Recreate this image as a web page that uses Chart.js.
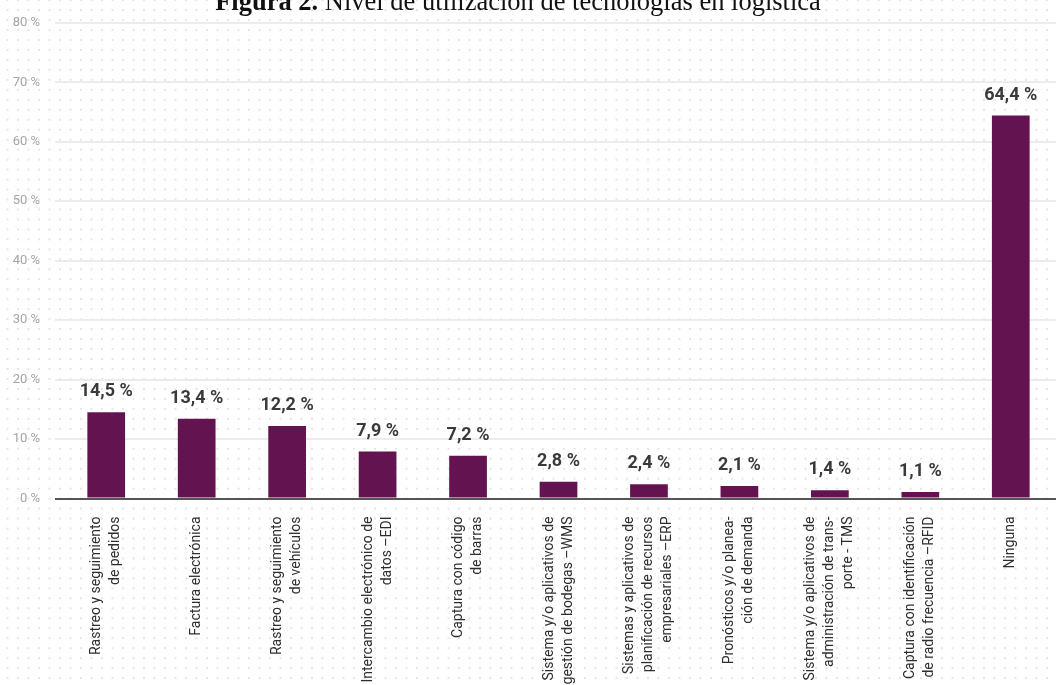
<!DOCTYPE html>
<html>
<head>
<meta charset="utf-8">
<script src="https://cdn.jsdelivr.net/npm/chart.js@4"></script>
<style>
  html, body { margin: 0; padding: 0; background: #fff; overflow: hidden; }
  #wrap { position: relative; width: 1057px; height: 685px; }
</style>
</head>
<body>
<div id="wrap"><canvas id="techChart" width="1057" height="685"></canvas></div>
<script>
const titleBold = 'Figura 2.';
const titleRest = ' Nivel de utilización de tecnologías en logística';

const categories = [
    ['Rastreo y seguimiento', 'de pedidos'],
    ['Factura electrónica'],
    ['Rastreo y seguimiento', 'de vehículos'],
    ['Intercambio electrónico de', 'datos –EDI'],
    ['Captura con código', 'de barras'],
    ['Sistema y/o aplicativos de', 'gestión de bodegas –WMS'],
    ['Sistemas y aplicativos de', 'planificación de recursos', 'empresariales –ERP'],
    ['Pronósticos y/o planea-', 'ción de demanda'],
    ['Sistema y/o aplicativos de', 'administración de trans-', 'porte - TMS'],
    ['Captura con identificación', 'de radio frecuencia –RFID'],
    ['Ninguna']
];
const usage = [14.5, 13.4, 12.2, 7.9, 7.2, 2.8, 2.4, 2.1, 1.4, 1.1, 64.4];
const yTicks = [0, 10, 20, 30, 40, 50, 60, 70, 80];

// dotted paper background + title
const backdrop = {
    id: 'backdrop',
    beforeDraw(chart) {
        const c = chart.ctx;
        c.save();
        c.fillStyle = '#fff';
        c.fillRect(0, 0, chart.width, chart.height);
        c.fillStyle = '#e6e6e6';
        for (let y = 0.1; y < chart.height; y += 9.97) {
            for (let x = 7.5; x < chart.width; x += 10.5) {
                c.fillRect(x - 1, y - 1, 2, 2);
            }
        }
        c.restore();
    },
    afterDraw(chart) {
        const c = chart.ctx;
        c.save();
        c.fillStyle = '#111';
        c.textBaseline = 'alphabetic';
        c.font = 'bold 26.5px "Liberation Serif", "Times New Roman", serif';
        const wb = c.measureText(titleBold).width;
        c.font = '26.5px "Liberation Serif", "Times New Roman", serif';
        const wr = c.measureText(titleRest).width;
        const x0 = 518 - (wb + wr) / 2;
        c.font = 'bold 26.5px "Liberation Serif", "Times New Roman", serif';
        c.fillText(titleBold, x0, 10);
        c.font = '26.5px "Liberation Serif", "Times New Roman", serif';
        c.fillText(titleRest, x0 + wb, 10);
        c.restore();
    }
};

// value labels above bars and rotated category labels
const labelsPlugin = {
    id: 'labelsPlugin',
    afterDatasetsDraw(chart) {
        const c = chart.ctx;
        const meta = chart.getDatasetMeta(0);
        c.save();
        c.font = 'bold 18px Roboto';
        c.fillStyle = '#3a3a3a';
        c.textAlign = 'center';
        c.textBaseline = 'alphabetic';
        meta.data.forEach((bar, i) => {
            const txt = usage[i].toFixed(1).replace('.', ',') + ' %';
            c.fillText(txt, bar.x, bar.y - 16);
        });

        const xs = chart.scales.x;
        const lh = 19;
        c.font = '14px Roboto';
        c.fillStyle = '#2e2e2e';
        c.textAlign = 'right';
        c.textBaseline = 'middle';
        categories.forEach((lines, i) => {
            const px = xs.getPixelForTick(i);
            lines.forEach((line, j) => {
                const lx = px + (j - (lines.length - 1) / 2) * lh;
                c.save();
                c.translate(lx, xs.top + 18);
                c.rotate(-Math.PI / 2);
                c.fillText(line, 0, 0);
                c.restore();
            });
        });
        c.restore();
    }
};

const data = {
    labels: categories,
    datasets: [{
        label: 'Nivel de utilización',
        data: usage,
        backgroundColor: '#631450',
        borderWidth: 0,
        barPercentage: 0.417,
        categoryPercentage: 1
    }]
};

const config = {
    type: 'bar',
    data: data,
    options: {
        responsive: false,
        animation: false,
        layout: {
            padding: { top: 20, right: 1, left: 0, bottom: 0 }
        },
        scales: {
            x: {
                grid: { display: false, drawTicks: false },
                border: { display: false },
                ticks: { display: false },
                afterFit: function(scale) {
                    scale.height = 186.5;
                }
            },
            y: {
                min: 0,
                max: 80,
                afterBuildTicks: function(scale) {
                    scale.ticks = yTicks.map(v => ({ value: v }));
                },
                grid: {
                    color: function(ctx) {
                        return ctx.tick && ctx.tick.value === 0 ? '#555555' : '#ececec';
                    },
                    lineWidth: 2,
                    tickLength: 6
                },
                border: { display: false },
                ticks: {
                    padding: 15,
                    color: '#a5a5a5',
                    font: { family: 'Roboto', size: 13 },
                    callback: function(value) {
                        return value + ' %';
                    }
                },
                afterFit: function(scale) {
                    scale.width = 61;
                }
            }
        },
        plugins: {
            legend: { display: false },
            tooltip: { enabled: false }
        }
    },
    plugins: [backdrop, labelsPlugin]
};

const ctx = document.getElementById('techChart').getContext('2d');
new Chart(ctx, config);
</script>
</body>
</html>
